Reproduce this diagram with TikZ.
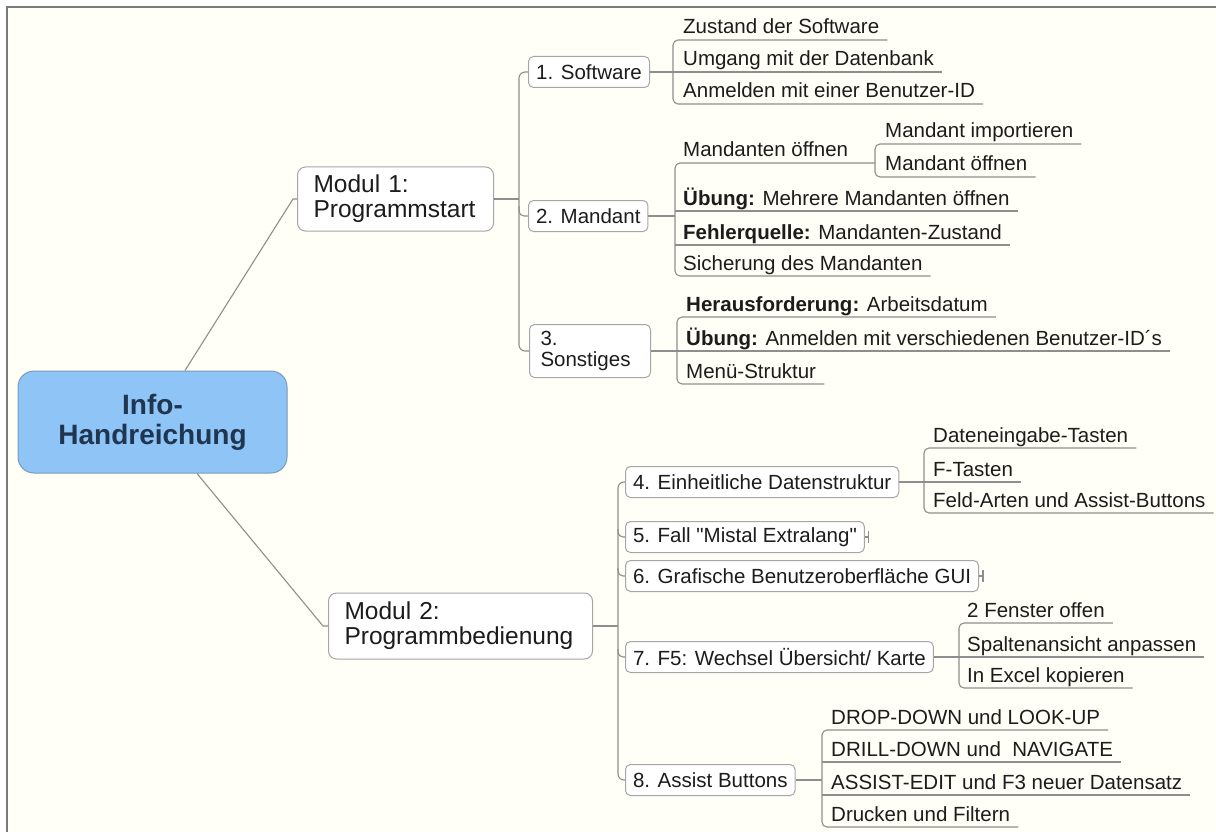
\documentclass[tikz,border=0pt]{standalone}
\usepackage{fontspec}
\setmainfont{Liberation Sans}[Ligatures=TeXOff]
\usetikzlibrary{calc}
\definecolor{bgc}{HTML}{FFFEF7}
\definecolor{framec}{HTML}{7A7A7A}
\definecolor{linec}{HTML}{8E8E8E}
\definecolor{boxc}{HTML}{A6A6A6}
\definecolor{txtc}{HTML}{1C1C1C}
\definecolor{rootfill}{HTML}{8EC4F6}
\definecolor{rootdraw}{HTML}{7B9BB9}
\definecolor{roottxt}{HTML}{1F3550}
\newcommand\ulend[1]{([xshift=8pt,yshift=-6pt]#1.base east)}
\begin{document}
\begin{tikzpicture}[x=1pt,y=-1pt,
  conn/.style={draw=linec, line width=1.1pt},
  rootbox/.style={draw=rootdraw, fill=rootfill, rounded corners=16pt, line width=1pt,
    minimum width=269pt, minimum height=102pt, align=center, text=roottxt,
    font=\fontsize{28}{30}\selectfont\bfseries},
  lonebox/.style={draw=boxc, fill=white, rounded corners=8pt, line width=1pt, align=left,
    font=\fontsize{24.5}{25}\selectfont, text=txtc, anchor=west, inner xsep=16pt, inner ysep=0pt},
  ltwobox/.style={draw=boxc, fill=white, rounded corners=5pt, line width=1pt,
    minimum height=31pt, inner xsep=7.5pt, inner ysep=0pt,
    font=\fontsize{20.5}{21}\selectfont, text=txtc, anchor=west},
  leaf/.style={anchor=base west, inner sep=0pt, font=\fontsize{20.5}{21}\selectfont, text=txtc}
]
\useasboundingbox (0,0) rectangle (1216,832);
\fill[white] (0,0) rectangle (1216,832);
\fill[bgc] (7,7) rectangle (1216,832);
\draw[framec, line width=1.6pt] (7,832) -- (7,7) -- (1216,7);

% root
\node[rootbox] (root) at (152.5,422) {Info-\\Handreichung};

% level 1
\node[lonebox, minimum height=64pt, text width=164pt] (m1) at (297,199) {Modul 1:\\Programmstart};
\node[lonebox, minimum height=66pt, text width=232pt] (m2) at (328,626) {Modul 2:\\Programmbedienung};

\coordinate (r1) at ([xshift=32.5pt]root.north);
\coordinate (r2) at ([xshift=44.5pt]root.south);
\draw[conn] (r1) -- (293,199) -- (m1.west);
\draw[conn] (r2) -- (323,626) -- (m2.west);

% level 2, Modul 1
\node[ltwobox, minimum width=121pt] (b1) at (528,72) {1. Software};
\node[ltwobox, minimum width=119pt] (b2) at (528,216) {2. Mandant};
\node[ltwobox, minimum height=53pt, text width=99pt, inner xsep=11pt, align=left] (b3) at (529,351) {3.\\Sonstiges};

\coordinate (t1) at (519,199);
\draw[conn] (m1.east) -- (t1);
\draw[conn, rounded corners=6pt] (b1.west) -| (519,351) -- (b3.west);
\draw[conn, rounded corners=5pt] (b2.west) -| (519,206);

% Software group
\node[leaf] (sw1) at (683,34) {Zustand der Software};
\node[leaf] (sw2) at (683,66) {Umgang mit der Datenbank};
\node[leaf] (sw3) at (683,98) {Anmelden mit einer Benutzer-ID};
\draw[conn, rounded corners=5pt] \ulend{sw1} -- (673,40) -- (673,104) -- \ulend{sw3};
\draw[conn] (673,72) -- \ulend{sw2};
\draw[conn] (b1.east) -- (673,72);

% Mandant group
\node[leaf] (md1) at (683,157) {Mandanten öffnen};
\node[leaf] (mi) at (885,138) {Mandant importieren};
\node[leaf] (mo) at (885,171) {Mandant öffnen};
\node[leaf] (md2) at (683,205) {\textbf{Übung:} Mehrere Mandanten öffnen};
\node[leaf] (md3) at (683,239) {\textbf{Fehlerquelle:} Mandanten-Zustand};
\node[leaf] (md4) at (683,270) {Sicherung des Mandanten};
\draw[conn, rounded corners=5pt] (875,163) -- (675,163) -- (675,276) -- \ulend{md4};
\draw[conn] (675,211) -- \ulend{md2};
\draw[conn] (675,245) -- \ulend{md3};
\draw[conn, rounded corners=5pt] \ulend{mi} -- (875,144) -- (875,177) -- \ulend{mo};
\draw[conn] (b2.east) -- (675,216);

% Sonstiges group
\node[leaf] (so1) at (686,311) {\textbf{Herausforderung:} Arbeitsdatum};
\node[leaf] (so2) at (686,345) {\textbf{Übung:} Anmelden mit verschiedenen Benutzer-ID´s};
\node[leaf] (so3) at (686,378) {Menü-Struktur};
\draw[conn, rounded corners=5pt] \ulend{so1} -- (677,317) -- (677,384) -- \ulend{so3};
\draw[conn] (b3.east |- 0,351) -- \ulend{so2};

% level 2, Modul 2
\node[ltwobox] (c4) at (625,482) {4. Einheitliche Datenstruktur};
\node[ltwobox] (c5) at (625,537) {5. Fall "Mistal Extralang"};
\node[ltwobox] (c6) at (625,576) {6. Grafische Benutzeroberfläche GUI};
\node[ltwobox] (c7) at (625,657) {7. F5: Wechsel Übersicht/ Karte};
\node[ltwobox] (c8) at (625,780) {8. Assist Buttons};

\coordinate (t2) at (618,626);
\draw[conn] (m2.east) -- (t2);
\draw[conn, rounded corners=6pt] (c4.west) -| (618,780) -- (c8.west);
\draw[conn, rounded corners=5pt] (c5.west) -| (618,529);
\draw[conn, rounded corners=5pt] (c6.west) -| (618,568);
\draw[conn, rounded corners=5pt] (c7.west) -| (618,649);

% stubs
\draw[conn] (c5.east) -- ++(4,0);
\draw[conn] ([xshift=4pt]c5.east) ++(0,-6) -- ++(0,12);
\draw[conn] (c6.east) -- ++(4,0);
\draw[conn] ([xshift=4pt]c6.east) ++(0,-6) -- ++(0,12);

% group 4
\node[leaf] (d1) at (933,442) {Dateneingabe-Tasten};
\node[leaf] (d2) at (933,476) {F-Tasten};
\node[leaf] (d3) at (933,507) {Feld-Arten und Assist-Buttons};
\draw[conn, rounded corners=5pt] \ulend{d1} -- (924,448) -- (924,513) -- \ulend{d3};
\draw[conn] (924,482) -- \ulend{d2};
\draw[conn] (c4.east) -- (924,482);

% group 7
\node[leaf] (f1) at (967,617) {2 Fenster offen};
\node[leaf] (f2) at (967,651) {Spaltenansicht anpassen};
\node[leaf] (f3) at (967,682) {In Excel kopieren};
\draw[conn, rounded corners=5pt] \ulend{f1} -- (959,623) -- (959,688) -- \ulend{f3};
\draw[conn] (959,657) -- \ulend{f2};
\draw[conn] (c7.east) -- (959,657);

% group 8
\node[leaf] (a1) at (831,724) {DROP-DOWN und LOOK-UP};
\node[leaf] (a2) at (831,756) {DRILL-DOWN und~ NAVIGATE};
\node[leaf] (a3) at (831,789) {ASSIST-EDIT und F3 neuer Datensatz};
\node[leaf] (a4) at (831,821) {Drucken und Filtern};
\draw[conn, rounded corners=5pt] \ulend{a1} -- (822,730) -- (822,827) -- \ulend{a4};
\draw[conn] (822,762) -- \ulend{a2};
\draw[conn] (822,795) -- \ulend{a3};
\draw[conn] (c8.east) -- (822,780);
\end{tikzpicture}
\end{document}
